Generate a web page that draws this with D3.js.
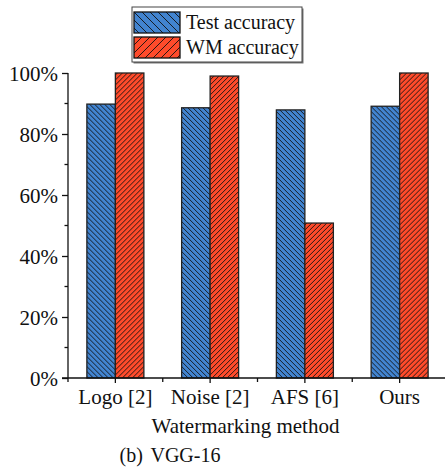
<!DOCTYPE html>
<html>
<head>
<meta charset="utf-8">
<script src="https://cdn.jsdelivr.net/npm/d3@7"></script>
<style>
  body { margin: 0; background: #fff; }
  text { font-family: "Liberation Serif", "Times New Roman", serif; fill: #111; }
</style>
</head>
<body>
<svg width="445" height="470"></svg>
<script>
var methods = ["Logo [2]", "Noise [2]", "AFS [6]", "Ours"];
var testAcc = [89.8, 88.6, 87.9, 89.1];
var wmAcc = [100, 99.0, 50.8, 100];
var seriesNames = ["Test accuracy", "WM accuracy"];
var colors = ["#4284d0", "#ff4b2b"];
var yTicks = [0, 20, 40, 60, 80, 100];

var svg = d3.select("svg");
var plotLeft = 68, plotRight = 447, plotTop = 73, plotBottom = 378;

// hatch patterns
var defs = svg.append("defs");
function hatch(id, color, size, dir) {
  var p = defs.append("pattern")
    .attr("id", id)
    .attr("patternUnits", "userSpaceOnUse")
    .attr("width", size).attr("height", size);
  p.append("rect").attr("width", size).attr("height", size).attr("fill", color);
  var d = dir > 0
    ? "M0," + size + "L" + size + ",0M-1,1L1,-1M" + (size - 1) + "," + (size + 1) + "L" + (size + 1) + "," + (size - 1)
    : "M0,0L" + size + "," + size + "M-1," + (size - 1) + "L1," + (size + 1) + "M" + (size - 1) + ",-1L" + (size + 1) + ",1";
  p.append("path").attr("d", d).attr("stroke", "#111").attr("stroke-width", 0.9);
}
hatch("h0", colors[0], 5, -1);
hatch("h1", colors[1], 5, 1);
hatch("l0", colors[0], 8, -1);
hatch("l1", colors[1], 8, 1);

var x = d3.scaleBand().domain(methods).range([plotLeft, plotRight]).padding(0);
var y = d3.scaleLinear().domain([0, 100]).range([plotBottom, plotTop]);
var barW = 28.5;

var data = methods.map(function (m, i) { return [testAcc[i], wmAcc[i]]; });

var groups = svg.selectAll("g.grp").data(data).enter().append("g")
  .attr("transform", function (d, i) { return "translate(" + (x(methods[i]) + x.bandwidth() / 2) + ",0)"; });

groups.selectAll("rect").data(function (d) { return d; }).enter().append("rect")
  .attr("x", function (d, j) { return (j - 1) * barW; })
  .attr("y", function (d) { return y(d); })
  .attr("width", barW)
  .attr("height", function (d) { return plotBottom - y(d); })
  .attr("fill", function (d, j) { return "url(#h" + j + ")"; })
  .attr("stroke", "#222")
  .attr("stroke-width", 1.3);

// y axis
var yAxis = svg.append("g").attr("transform", "translate(" + plotLeft + ",0)")
  .call(d3.axisLeft(y).tickValues(yTicks).tickSize(6).tickPadding(4)
    .tickFormat(function (d) { return d + "%"; }));
yAxis.select(".domain").attr("d", "M0," + plotBottom + "V" + plotTop).attr("stroke", "#111").attr("stroke-width", 1.3);
yAxis.selectAll(".tick line").attr("stroke", "#111").attr("stroke-width", 1.3);
yAxis.selectAll("text").style("font-size", "21px").attr("dy", "0.35em");
yAxis.selectAll(".minor").data(d3.range(10, 100, 20)).enter().append("line")
  .attr("x1", -3.5).attr("x2", 0)
  .attr("y1", function (d) { return y(d); }).attr("y2", function (d) { return y(d); })
  .attr("stroke", "#111").attr("stroke-width", 1.3);

// x axis
var xAxis = svg.append("g").attr("transform", "translate(0," + plotBottom + ")")
  .call(d3.axisBottom(x).tickSize(5).tickPadding(6));
xAxis.select(".domain").attr("d", "M" + (plotLeft - 6) + ",0H" + plotRight).attr("stroke", "#111").attr("stroke-width", 1.3);
xAxis.selectAll(".tick line").attr("stroke", "#111").attr("stroke-width", 1.3);
xAxis.selectAll("text").style("font-size", "21px");
xAxis.selectAll(".minor").data(d3.range(0, methods.length)).enter().append("line")
  .attr("x1", function (d) { return plotLeft + d * x.step(); })
  .attr("x2", function (d) { return plotLeft + d * x.step(); })
  .attr("y1", 0).attr("y2", 4)
  .attr("stroke", "#111").attr("stroke-width", 1.3);

svg.append("text").attr("x", (plotLeft + plotRight) / 2 - 12).attr("y", 433)
  .attr("text-anchor", "middle").style("font-size", "21px").text("Watermarking method");
svg.append("text").attr("x", 170).attr("y", 462)
  .attr("text-anchor", "middle").style("font-size", "20px").style("word-spacing", "3px").text("(b) VGG-16");

// legend
var lg = svg.append("g").attr("transform", "translate(132,7)");
lg.append("rect").attr("x", 1.5).attr("y", 1.5).attr("width", 170).attr("height", 55).attr("fill", "#777");
lg.append("rect").attr("width", 170).attr("height", 55).attr("fill", "#fff").attr("stroke", "#444").attr("stroke-width", 1);
seriesNames.forEach(function (s, i) {
  var row = lg.append("g").attr("transform", "translate(2," + (5 + i * 25) + ")");
  row.append("rect").attr("width", 46).attr("height", 21)
    .attr("fill", "url(#l" + i + ")").attr("stroke", "#111").attr("stroke-width", 1.3);
  row.append("text").attr("x", 52).attr("y", 17).style("font-size", "20px").text(s);
});
</script>
</body>
</html>
